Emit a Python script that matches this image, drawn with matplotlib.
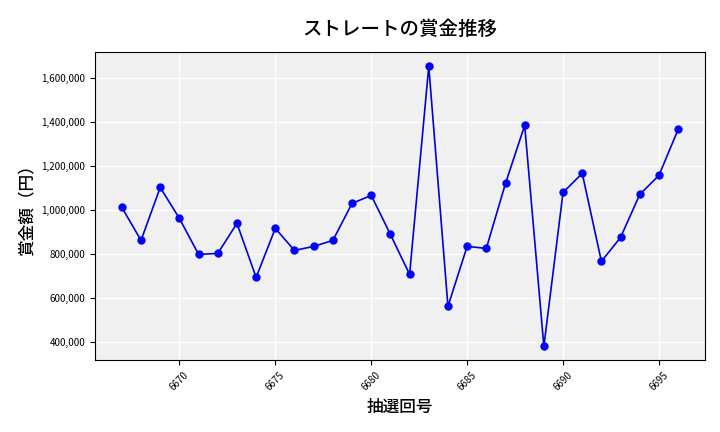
import matplotlib
matplotlib.use("Agg")
import matplotlib.pyplot as plt
from matplotlib.ticker import FuncFormatter

plt.rcParams['font.family'] = ['Noto Sans CJK JP', 'DejaVu Sans']

draws = list(range(6667, 6697))
prizes = [1013600, 863600, 1104500, 963600, 800000, 804500, 940900, 695500, 918200, 818200,
          836400, 863600, 1031800, 1068200, 890900, 709100, 1654500, 563600, 836400, 827300,
          1122700, 1386400, 381800, 1081800, 1168200, 768200, 877300, 1072700, 1159100, 1368200]

fig = plt.figure(figsize=(7.2, 4.32), dpi=100)
ax = fig.add_axes([95/720, 1-360/432, 610/720, 308/432])
ax.set_facecolor('#f0f0f0')
ax.grid(True, color='white', linewidth=1)
ax.set_axisbelow(True)
ax.plot(draws, prizes, color='#0000dd', marker='o', markersize=5, linewidth=1.2,
        markerfacecolor='#0000ff', markeredgecolor='#0000ff')
ax.set_xticks(range(6670, 6697, 5))
ax.tick_params(axis='x', labelrotation=45, labelsize=7)
ax.tick_params(axis='y', labelsize=7)
ax.yaxis.set_major_formatter(FuncFormatter(lambda v, p: f"{int(v):,}"))
ax.set_xlim(6665.6, 6697.4)
ax.set_ylim(320000, 1720000)
ax.set_title('ストレートの賞金推移', fontsize=14, fontweight='medium', pad=12)
ax.set_xlabel('抽選回号', fontsize=12, fontweight='medium')
ax.set_ylabel('賞金額（円）', fontsize=12, fontweight='medium')
fig.savefig('out.png', dpi=100)
